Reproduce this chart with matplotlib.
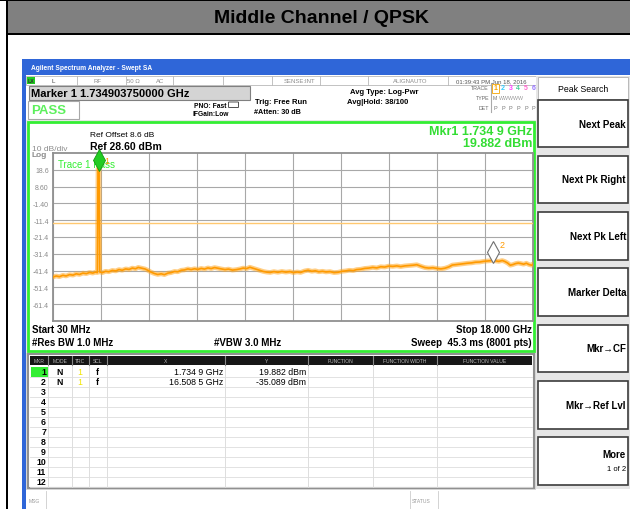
import numpy as np
import matplotlib.pyplot as plt
from matplotlib.patches import Rectangle, FancyBboxPatch
from matplotlib.transforms import offset_copy

plt.rcParams['font.family'] = ['Liberation Sans', 'DejaVu Sans']

# ---- values ----
title = "Middle Channel / QPSK"
start_ghz = 0.03
stop_ghz = 18.0
ref_dbm = 28.6
bottom_dbm = -71.4
limit_dbm = -13.0

freq_ghz = [0.03, 0.15, 0.27, 0.40, 0.52, 0.65, 0.78, 0.90, 1.02, 1.15, 1.28, 1.40, 1.52, 1.62, 1.69,
            1.70, 1.715, 1.7349, 1.755, 1.77, 1.78,
            1.88, 2.00, 2.12, 2.25, 2.38, 2.50, 2.62, 2.75, 2.88, 3.00, 3.12, 3.22, 3.35, 3.47, 3.58,
            3.70, 3.82, 3.95, 4.08, 4.20, 4.33, 4.45, 4.58, 4.70, 4.83, 4.95, 5.08, 5.20, 5.33, 5.45,
            5.58, 5.70, 5.83, 5.95, 6.08, 6.20, 6.33, 6.47, 6.60, 6.75, 6.90, 7.03, 7.15, 7.28, 7.40,
            7.52, 7.65, 7.78, 7.90, 8.03, 8.16, 8.30, 8.45, 8.60, 8.75, 8.90, 9.03, 9.17, 9.30, 9.45,
            9.58, 9.72, 9.85, 9.98, 10.12, 10.25, 10.40, 10.55, 10.70, 10.85, 10.98, 11.12, 11.27,
            11.40, 11.55, 11.70, 11.85, 12.00, 12.15, 12.30, 12.45, 12.60, 12.75, 12.90, 13.05, 13.20,
            13.35, 13.50, 13.65, 13.80, 13.95, 14.10, 14.25, 14.40, 14.55, 14.70, 14.85, 14.98, 15.10,
            15.25, 15.40, 15.55, 15.70, 15.85, 16.00, 16.15, 16.30, 16.42, 16.5085, 16.60, 16.72,
            16.85, 16.95, 17.05, 17.15, 17.25, 17.35, 17.45, 17.55, 17.65, 17.75, 17.85, 17.95, 18.00]
level_dbm = [-45.2, -44.6, -45.0, -44.2, -44.6, -43.8, -44.1, -43.3, -43.7, -42.9, -43.2, -42.5, -42.9, -42.3, -42.6,
             -13.6, 18.9, 19.882, 18.6, -13.9, -42.2,
             -42.6, -41.8, -42.1, -41.3, -41.6, -40.8, -41.2, -40.4, -40.7, -39.9, -40.3, -39.5, -40.0, -40.4, -41.2,
             -42.3, -43.1, -43.7, -43.3, -43.8, -42.9, -42.6, -41.9, -42.1, -41.2, -41.0, -40.4, -40.8, -40.3, -40.7,
             -40.1, -40.5, -39.8, -40.2, -39.6, -40.0, -40.4, -40.8, -40.5, -41.1, -40.8, -40.4, -39.9, -40.2, -39.4,
             -40.0, -40.6, -41.3, -41.9, -42.3, -42.5, -42.0, -42.4, -41.9, -42.3, -42.0, -42.6, -42.2, -42.5, -41.6,
             -41.2, -41.8, -41.5, -42.1, -41.8, -42.2, -42.0, -42.6, -42.4, -41.8, -41.6, -41.2, -41.4,
             -40.8, -40.6, -40.1, -39.9, -39.5, -39.8, -39.1, -39.3, -38.7, -38.9, -38.6, -39.0, -38.6,
             -38.4, -38.2, -37.9, -38.8, -39.6, -39.9, -39.7, -40.1, -40.4, -40.0, -39.2, -38.1, -37.9,
             -37.6, -37.3, -37.0, -36.8, -36.4, -36.3, -35.9, -35.7, -35.5, -35.089, -35.6, -35.9,
             -35.4, -36.0, -36.9, -38.2, -37.8, -37.2, -36.9, -37.2, -37.6, -37.0, -37.8, -38.2, -37.6]

ytick_vals = [18.6, 8.6, -1.4, -11.4, -21.4, -31.4, -41.4, -51.4, -61.4]
ytick_labels = ["18.6", "8.60", "-1.40", "-11.4", "-21.4", "-31.4", "-41.4", "-51.4", "-61.4"]

mkr_freq = [1.7349, 16.5085]
mkr_level = [19.882, -35.089]
mkr_x_text = ["1.734 9 GHz", "16.508 5 GHz"]
mkr_y_text = ["19.882 dBm", "-35.089 dBm"]

table_cols = ["MKR", "MODE", "TRC", "SCL", "X", "Y", "FUNCTION", "FUNCTION WIDTH", "FUNCTION VALUE"]
softkeys = ["Next Peak", "Next Pk Right", "Next Pk Left", "Marker Delta",
            "Mkr\u2192CF", "Mkr\u2192Ref Lvl", "More"]

W, H = 630, 510
fig = plt.figure(figsize=(W / 100, H / 100), dpi=100)
bg = fig.add_axes([0, 0, 1, 1])
bg.set_xlim(0, W)
bg.set_ylim(H, 0)
bg.axis('off')


def box(x0, y0, x1, y1, fc='white', ec='none', lw=1.0, z=1):
    bg.add_patch(Rectangle((x0, y0), x1 - x0, y1 - y0, fc=fc, ec=ec, lw=lw, zorder=z))


def txt(x, y, s, size=6, ha='left', color='black', bold=False, z=3, **kw):
    bg.text(x, y, s, fontsize=size, ha=ha, va='center', color=color,
            fontweight='bold' if bold else 'normal', zorder=z, **kw)


# title band
box(0, 0, W, 2, fc='black')
box(8, 2, W, 34, fc='#808080')
box(8, 34, W, 36, fc='black')
box(6, 0, 8, H, fc='black')
txt(322, 18.5, title, size=14, ha='center', bold=True)

# analyzer window frame
blue = '#2f66d8'
box(22, 60, W, 76, fc=blue)
box(22, 60, 26, H, fc=blue)
txt(31, 68.5, "Agilent Spectrum Analyzer - Swept SA", size=4.8, color='white', bold=True)

# status line
box(26, 77, 536, 86, fc='white', ec='#b8b8b8', lw=0.6)
for xd in [77, 126, 173, 223, 272, 320, 368, 448]:
    bg.plot([xd, xd], [77, 86], color='#b8b8b8', lw=0.6, zorder=2)
box(27, 78, 35, 85, fc='#22cc22', z=2)
txt(31, 81.5, "LX", size=3.8, ha='center', color='#333333', bold=True)
st_col = '#8c8c8c'
txt(53, 81.5, "L", size=4.5, ha='center', color='#444444')
txt(97, 81.5, "RF", size=4.3, ha='center', color=st_col)
txt(133, 81.5, "50 \u03a9", size=4.3, ha='center', color=st_col)
txt(160, 81.5, "AC", size=4.3, ha='center', color=st_col)
txt(300, 81.5, "SENSE:INT", size=4.3, ha='center', color=st_col)
txt(410, 81.5, "ALIGNAUTO", size=4.3, ha='center', color=st_col)
txt(491, 81.5, "01:39:43 PM Jun 18, 2016", size=4.3, ha='center', color='#555555')

# marker / pass boxes
box(29, 87, 250, 101, fc='#d4d4d4', ec='#808080', lw=0.8)
txt(31, 94, "Marker 1 1.734903750000 GHz", size=8, bold=True)
box(28, 102, 79, 120, fc='white', ec='#a8a8a8', lw=0.8)
txt(31, 111, "PASS", size=9.5, color='#5cf05c', bold=True)
txt(226, 106, "PNO: Fast", size=4.8, ha='right', bold=True)
bg.add_patch(FancyBboxPatch((229, 103.5), 9, 4.5, boxstyle='round,pad=0.5', fc='white', ec='#333333', lw=0.6))
txt(229, 114, "IFGain:Low", size=4.8, ha='right', bold=True)
txt(255, 102, "Trig: Free Run", size=5.5, bold=True)
txt(254, 112, "#Atten: 30 dB", size=5.2, bold=True)
txt(350, 92, "Avg Type: Log-Pwr", size=5.5, bold=True)
txt(347, 102, "Avg|Hold: 38/100", size=5.5, bold=True)

# trace legend
txt(489, 89, "TRACE", size=3.8, ha='right', color='#666666')
txt(489, 99, "TYPE", size=3.8, ha='right', color='#666666')
txt(489, 109, "DET", size=3.8, ha='right', color='#666666')
bg.plot([491, 491], [84, 113], color='#aaaaaa', lw=0.8, zorder=2)
trace_cols = ['#f5a300', '#33ccff', '#ff44ff', '#44cc99', '#ff66cc', '#9977ff']
box(492, 84.5, 499, 93.5, fc='white', ec='#f5a300', lw=0.6, z=2)
for i, c in enumerate(trace_cols):
    xi = 495.5 + i * 7.6
    txt(xi, 89, str(i + 1), size=5, ha='center', color=c, bold=True)
    txt(xi, 109, "P", size=4, ha='center', color='#777777')
txt(493, 99, "M", size=3.8, color='#777777')
txt(499, 99, "WWWWW", size=3.8, color='#999999')

# right softkey panel
box(536, 77, W, 490, fc='#e6e6e6')
box(538, 78, 628, 100, fc='white', ec='#b0b0b0', lw=0.6)
txt(583, 89, "Peak Search", size=6.3, ha='center')
key_rows = [(101, 148), (157, 204), (213, 261), (269, 317), (326, 373), (382, 430), (438, 486)]
for (y0, y1), label in zip(key_rows, softkeys):
    box(538, y0, 628, y1, fc='white', ec='#3c3c3c', lw=1.2)
    if label == "More":
        txt(626, 455, label, size=7, ha='right', bold=True)
        txt(626, 470, "1 of 2", size=5.5, ha='right')
    else:
        txt(626, (y0 + y1) / 2, label, size=7, ha='right', bold=True)

# graph panel
box(26, 121, 536, 354, fc='#e6e6e6')
box(28, 123, 534, 352, fc='white', ec='#33ee33', lw=2)
txt(90, 136, "Ref Offset 8.6 dB", size=6)
txt(90, 147.5, "Ref 28.60 dBm", size=7.5, bold=True)
txt(32, 149.5, "10 dB/div", size=6, color='#8c8c8c')
txt(32, 156, "Log", size=6, color='#8c8c8c', bold=True)
txt(532, 132, "Mkr1 1.734 9 GHz", size=9, ha='right', color='#33dd33', bold=True)
txt(532, 144.5, "19.882 dBm", size=9, ha='right', color='#33dd33', bold=True)
txt(32, 330, "Start 30 MHz", size=7, bold=True)
txt(532, 330, "Stop 18.000 GHz", size=7, ha='right', bold=True)
txt(32, 343, "#Res BW 1.0 MHz", size=7, bold=True)
txt(248, 343, "#VBW 3.0 MHz", size=7, ha='center', bold=True)
txt(532, 343, "Sweep  45.3 ms (8001 pts)", size=7, ha='right', bold=True)

# marker table
box(26, 354, 536, 491, fc='#d8d8d8')
box(28, 355, 534, 489, fc='white', ec='#909090', lw=1.5)
col_edges = [30, 48, 72, 89, 107, 225, 308, 373, 437, 532]
box(30, 357, 532, 366, fc='#161616', z=2)
for i, name in enumerate(table_cols):
    txt((col_edges[i] + col_edges[i + 1]) / 2, 361.5, name, size=3.6, ha='center', color='#b8b8b8')
    if i > 0:
        bg.plot([col_edges[i]] * 2, [357, 366], color='#888888', lw=0.8, zorder=3)
        bg.plot([col_edges[i]] * 2, [366, 488], color='#d8d8d8', lw=0.6, zorder=2)
for r in range(12):
    yc = 373 + r * 10
    bg.plot([30, 532], [yc + 5, yc + 5], color='#dddddd', lw=0.6, zorder=2)
    if r == 0:
        box(31, yc - 5, 48, yc + 5, fc='#33ee33', z=2)
    txt(46, yc, str(r + 1), size=6.3, ha='right', bold=True)
for r in range(len(mkr_freq)):
    yc = 373 + r * 10
    txt(60, yc, "N", size=6.3, ha='center', bold=True)
    txt(80, yc, "1", size=6.3, ha='center', color='#f2e600')
    txt(97, yc, "f", size=6.3, ha='center', bold=True)
    txt(223, yc, mkr_x_text[r], size=6.3, ha='right')
    txt(306, yc, mkr_y_text[r], size=6.3, ha='right')

# message bar
box(26, 491, W, H, fc='white')
for xd in [46, 410, 438]:
    bg.plot([xd, xd], [492, H], color='#cccccc', lw=0.6, zorder=2)
txt(29, 502, "MSG", size=3.6, color='#999999')
txt(412, 502, "STATUS", size=3.6, color='#999999')

# ---- spectrum plot ----
ax = fig.add_axes([53 / W, 1 - 322 / H, 480 / W, 168 / H], zorder=5)
ax.set_facecolor('white')
ax.set_xlim(start_ghz, stop_ghz)
ax.set_ylim(bottom_dbm, ref_dbm)
ax.set_xticks(np.linspace(start_ghz, stop_ghz, 11))
ax.set_xticklabels([])
ax.set_yticks(ytick_vals, labels=ytick_labels)
ax.tick_params(length=0, labelsize=5, labelcolor='#8a8a8a', pad=3)
ax.grid(True, color='#a8a8a8', lw=0.8)
for s in ax.spines.values():
    s.set_color('#909090')
    s.set_linewidth(1.3)

ax.text(58, 165, "Trace 1 Pass", transform=bg.transData, fontsize=7,
        color='#33ee33', va='center', zorder=2)
ax.axhline(limit_dbm, color='#ffc870', lw=1, zorder=3)
ax.plot(freq_ghz, level_dbm, color='#ffa722', lw=3.4, alpha=0.55, zorder=3)
ax.plot(freq_ghz, level_dbm, color='#ff9a00', lw=1.2, zorder=3)

up = offset_copy(ax.transData, fig=fig, x=0, y=7.5, units='dots')
ax.plot(mkr_freq[0], mkr_level[0], marker='d', ms=11, mfc='#22cc22', mec='#119911',
        mew=0.6, transform=up, clip_on=False, zorder=6)
ax.plot(mkr_freq[1], mkr_level[1], marker='d', ms=11, mfc='white', mec='#707070',
        mew=0.8, transform=up, clip_on=False, zorder=6)
label_offsets = [(5.8, 4.8), (6.5, 10.8)]
for i in range(2):
    ax.annotate(str(i + 1), (mkr_freq[i], mkr_level[i]), xytext=label_offsets[i],
                textcoords='offset points', fontsize=6.5, color='#ff9a00',
                va='center', ha='center', annotation_clip=False, zorder=6)

fig.savefig('out.png', dpi=100)
